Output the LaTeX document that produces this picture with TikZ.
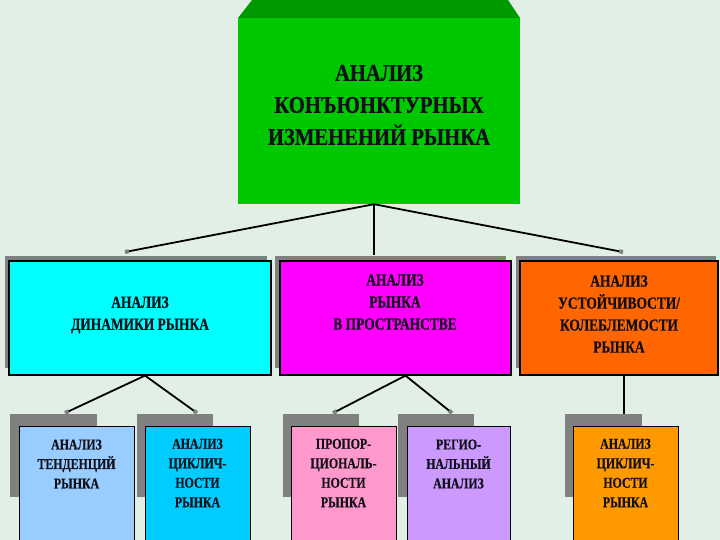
\documentclass[tikz,border=0pt]{standalone}
\usepackage{fontspec}
\setmainfont{Liberation Serif}[FakeStretch=0.86]
\newfontfamily\topfont{Liberation Serif}[FakeStretch=0.86, BoldFeatures={FakeBold=0.6}]
\newfontfamily\narrowfont{Liberation Serif}[FakeStretch=0.79, BoldFeatures={FakeBold=0.5}]
\usetikzlibrary{arrows.meta}
\definecolor{bg}{HTML}{E1EFE6}
\definecolor{topgreen}{HTML}{00C800}
\definecolor{topband}{HTML}{009A00}
\definecolor{shade}{HTML}{808080}
\definecolor{cCyan}{HTML}{00FFFF}
\definecolor{cMag}{HTML}{FF00FF}
\definecolor{cOrange}{HTML}{FF6600}
\definecolor{cLblue}{HTML}{99CCFF}
\definecolor{cSky}{HTML}{00CCFF}
\definecolor{cPink}{HTML}{FF99CC}
\definecolor{cLilac}{HTML}{CC99FF}
\definecolor{cAmber}{HTML}{FF9900}
\definecolor{ink}{HTML}{10101A}
\tikzset{
  boxtwo/.style={draw=black, line width=1.2pt, inner sep=0pt, minimum width=262pt, minimum height=114pt},
  boxthree/.style={draw=black, line width=0.8pt, inner sep=0pt, minimum width=115pt, minimum height=120pt},
  ttop/.style={align=center, text=ink, font=\topfont\bfseries\fontsize{24}{32}\selectfont},
  ttwo/.style={align=center, text=ink, font=\narrowfont\bfseries\fontsize{17}{22}\selectfont},
  tthree/.style={align=center, text=ink, font=\narrowfont\bfseries\fontsize{15}{19.5}\selectfont},
  link/.style={line width=1.8pt},
  conn/.style={link, -{Square[length=4pt,width=4pt,color=shade]}},
  shadowbox/.style={fill=shade}
}
\begin{document}
\begin{tikzpicture}[x=1pt,y=-1pt]
\useasboundingbox (0,0) rectangle (720,540);
\clip (0,0) rectangle (720,540);
\fill[bg] (0,0) rectangle (720,540);

% top box
\fill[topband] (252,0) -- (508,0) -- (520,18) -- (238,18) -- cycle;
\node[fill=topgreen, inner sep=0pt, minimum width=282pt, minimum height=186pt] (top) at (379,111) {};
\node[ttop] (ttop) at (379,105) {АНАЛИЗ\\КОНЪЮНКТУРНЫХ\\ИЗМЕНЕНИЙ РЫНКА};

% level 2 shadows
\fill[shadowbox] (5,256) rectangle (267,368);
\fill[shadowbox] (275,256) rectangle (506,368);
\fill[shadowbox] (516,256) rectangle (716,368);

% level 2 boxes
\node[boxtwo, fill=cCyan] (dyn) at (140,318) {};
\node[boxtwo, fill=cMag, minimum width=231pt] (space) at (395.5,318) {};
\node[boxtwo, fill=cOrange, minimum width=198pt] (stab) at (619,318) {};
\node[ttwo] (tdyn) at (140,315) {АНАЛИЗ\\ДИНАМИКИ РЫНКА};
\node[ttwo] (tspace) at (395,302) {АНАЛИЗ\\РЫНКА\\В ПРОСТРАНСТВЕ};
\node[ttwo] (tstab) at (619,314) {АНАЛИЗ\\УСТОЙЧИВОСТИ/\\КОЛЕБЛЕМОСТИ\\РЫНКА};

% level 1 connectors
\coordinate (e1) at (125,252);
\coordinate (e2) at (374,255);
\coordinate (e3) at (623,252);
\draw[conn] ([xshift=-5pt]top.south) -- (e1);
\draw[link] ([xshift=-5pt]top.south) -- (e2);
\draw[conn] ([xshift=-5pt]top.south) -- (e3);

% level 3 shadows
\fill[shadowbox] (10,414) rectangle (97,497);
\fill[shadowbox] (137,414) rectangle (213,497);
\fill[shadowbox] (283,414) rectangle (359,497);
\fill[shadowbox] (398,414) rectangle (474,497);
\fill[shadowbox] (565,414) rectangle (642,497);

% level 3 boxes
\node[boxthree, fill=cLblue] (tend) at (76.5,486) {};
\node[boxthree, fill=cSky, minimum width=105pt] (cyc) at (197.5,486) {};
\node[boxthree, fill=cPink, minimum width=105pt] (prop) at (343.5,486) {};
\node[boxthree, fill=cLilac, minimum width=103pt] (reg) at (458.5,486) {};
\node[boxthree, fill=cAmber, minimum width=105pt] (cyc2) at (625.5,486) {};

\node[tthree] (ttend) at (76.5,464) {АНАЛИЗ\\ТЕНДЕНЦИЙ\\РЫНКА};
\node[tthree] (tcyc) at (197.5,473) {АНАЛИЗ\\ЦИКЛИЧ-\\НОСТИ\\РЫНКА};
\node[tthree] (tprop) at (343.5,473) {ПРОПОР-\\ЦИОНАЛЬ-\\НОСТИ\\РЫНКА};
\node[tthree] (treg) at (458.5,464) {РЕГИО-\\НАЛЬНЫЙ\\АНАЛИЗ};
\node[tthree] (tcyc2) at (625.5,473) {АНАЛИЗ\\ЦИКЛИЧ-\\НОСТИ\\РЫНКА};

% level 2 -> 3 connectors
\coordinate (f1) at (65,413);
\coordinate (f2) at (197,413);
\coordinate (f3) at (333,413);
\coordinate (f4) at (452,413);
\coordinate (f5) at (624,414);
\draw[conn] ([xshift=5pt]dyn.south) -- (f1);
\draw[conn] ([xshift=5pt]dyn.south) -- (f2);
\draw[conn] ([xshift=10pt]space.south) -- (f3);
\draw[conn] ([xshift=10pt]space.south) -- (f4);
\draw[link] (stab.south -| f5) -- (f5);
\end{tikzpicture}
\end{document}
